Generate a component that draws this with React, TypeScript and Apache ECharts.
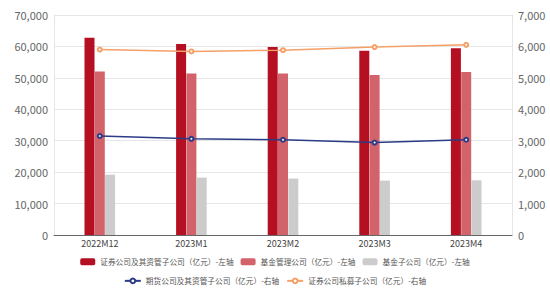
import React, { useEffect, useRef } from "react";
import * as echarts from "echarts";

const categories = ["2022M12", "2023M1", "2023M2", "2023M3", "2023M4"];
const securitiesCo = [62800, 60750, 59800, 58650, 59400];
const fundMgmtCo = [52000, 51400, 51400, 50900, 51900];
const fundSubCo = [19200, 18250, 17950, 17300, 17400];
const futuresCo = [3150, 3060, 3030, 2940, 3030];
const privateSubCo = [5900, 5840, 5880, 5980, 6050];

const names = [
  "证券公司及其资管子公司（亿元）-左轴",
  "基金管理公司（亿元）-左轴",
  "基金子公司（亿元）-左轴",
  "期货公司及其资管子公司（亿元）-右轴",
  "证券公司私募子公司（亿元）-右轴",
];

const FONT = "'Noto Sans CJK SC', 'Noto Sans', sans-serif";

export default function App() {
  const ref = useRef<HTMLDivElement>(null);
  useEffect(() => {
    if (!ref.current) return;
    const chart = echarts.init(ref.current, undefined, { renderer: "svg" });
    const yLabel = {
      color: "#666",
      fontSize: 11,
      fontFamily: FONT,
      margin: 6,
      formatter: (v: number) => v.toLocaleString("en-US"),
    };
    const legendText = { color: "#555", fontSize: 7.7, fontFamily: FONT };
    chart.setOption({
      animation: false,
      textStyle: { fontFamily: FONT },
      grid: { left: 54, right: 38, top: 15, bottom: 54 },
      legend: [
        {
          data: names.slice(0, 3),
          top: 258,
          left: "center",
          padding: 0,
          itemWidth: 15,
          itemHeight: 7,
          itemGap: 7,
          textStyle: legendText,
        },
        {
          data: names.slice(3),
          top: 277,
          left: "center",
          padding: 0,
          itemWidth: 16,
          itemHeight: 6,
          itemGap: 7,
          textStyle: legendText,
        },
      ],
      xAxis: {
        type: "category",
        data: categories,
        axisLine: { lineStyle: { color: "#666" } },
        axisTick: { alignWithLabel: true, lineStyle: { color: "#666" } },
        axisLabel: { color: "#444", fontSize: 9, fontFamily: FONT, margin: 4 },
      },
      yAxis: [
        {
          type: "value",
          min: 0,
          max: 70000,
          interval: 10000,
          axisLine: { show: true, lineStyle: { color: "#e6e6e6" } },
          splitLine: { lineStyle: { color: "#e6e6e6" } },
          axisLabel: yLabel,
        },
        {
          type: "value",
          min: 0,
          max: 7000,
          interval: 1000,
          axisLine: { show: true, lineStyle: { color: "#e6e6e6" } },
          splitLine: { show: false },
          axisLabel: yLabel,
        },
      ],
      series: [
        {
          name: names[0],
          type: "bar",
          data: securitiesCo,
          barWidth: 10,
          barGap: "3%",
          itemStyle: { color: "#b50f22" },
        },
        {
          name: names[1],
          type: "bar",
          data: fundMgmtCo,
          barWidth: 10,
          barGap: "3%",
          itemStyle: { color: "#d2636b" },
        },
        {
          name: names[2],
          type: "bar",
          data: fundSubCo,
          barWidth: 10,
          barGap: "3%",
          itemStyle: { color: "#cccccc" },
        },
        {
          name: names[3],
          type: "line",
          yAxisIndex: 1,
          data: futuresCo,
          symbol: "emptyCircle",
          symbolSize: 4,
          lineStyle: { color: "#2b3b85", width: 1.5 },
          itemStyle: { color: "#2b3b85" },
        },
        {
          name: names[4],
          type: "line",
          yAxisIndex: 1,
          data: privateSubCo,
          symbol: "emptyCircle",
          symbolSize: 4,
          lineStyle: { color: "#f4a066", width: 1.5 },
          itemStyle: { color: "#f4a066" },
        },
      ],
    });
    return () => chart.dispose();
  }, []);
  return (
    <div
      ref={ref}
      style={{ position: "fixed", left: 0, top: 0, width: 550, height: 289, background: "#fff" }}
    />
  );
}
